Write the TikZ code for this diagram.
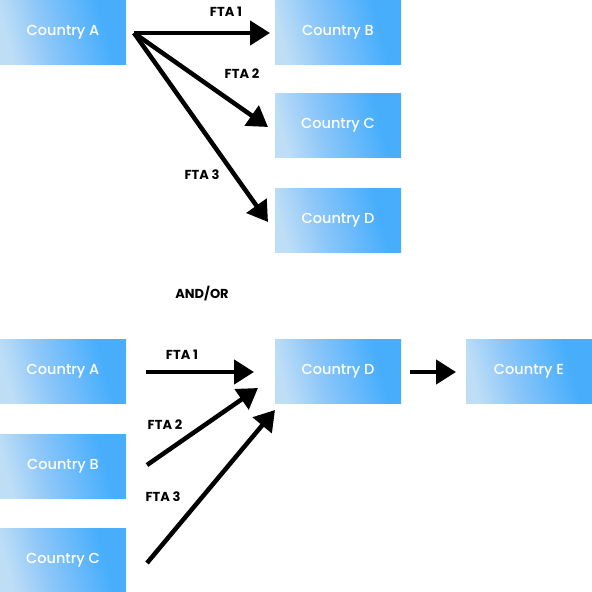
\documentclass[tikz,border=0pt]{standalone}
\usepackage{fontspec}
\setmainfont{Poppins}
\newfontfamily\cfont{Poppins Medium}
\usetikzlibrary{arrows.meta,calc}
\definecolor{boxlight}{RGB}{190,222,246}
\definecolor{boxmid}{RGB}{140,198,249}
\definecolor{boxdark}{RGB}{72,174,252}
\pgfdeclarehorizontalshading{boxshade}{100bp}{color(0bp)=(boxlight); color(25bp)=(boxlight); color(42bp)=(boxmid); color(68bp)=(boxdark); color(100bp)=(boxdark)}
\tikzset{
  country/.style={rectangle, minimum width=126pt, minimum height=64pt, inner sep=0pt,
    shading=boxshade, shading angle=15,
    text=white, font=\cfont\fontsize{14.5}{16}\selectfont},
  arr/.style={line width=4.5pt, -{Triangle[length=20pt,width=24pt]}},
  fta/.style={font=\fontsize{13}{15}\selectfont\bfseries, text=black, inner sep=0pt}
}
\begin{document}
\begin{tikzpicture}[x=1pt,y=-1pt]
\useasboundingbox (0,0) rectangle (592,592);
% top group
\node[country] (A1) at (63,32) {Country A};
\node[country] (B1) at (338,32) {Country B};
\node[country] (C1) at (338,125.5) {Country C};
\node[country] (D1) at (338,220) {Country D};
\coordinate (s1) at (134,33);
\coordinate (t1) at (270,33);
\coordinate (t2) at (268,127);
\coordinate (t3) at (268,222);
\draw[arr] (s1) -- (t1);
\draw[arr] (s1) -- (t2);
\draw[arr] (s1) -- (t3);
\node[fta] (l1) at (226,12) {FTA 1};
\node[fta] (l2) at (242,74) {FTA 2};
\node[fta] (l3) at (202,175) {FTA 3};
\node[fta] (andor) at (202,294) {AND/OR};
% bottom group
\node[country] (A2) at (63,371.5) {Country A};
\node[country] (D2) at (338,371.5) {Country D};
\node[country] (E2) at (529,371.5) {Country E};
\node[country] (B2) at (63,466) {Country B};
\node[country] (C2) at (63,560) {Country C};
\coordinate (u1) at (146,372);
\coordinate (v1) at (254,372);
\coordinate (u2) at (147,465);
\coordinate (v2) at (258,388);
\coordinate (u3) at (147,563);
\coordinate (v3) at (275,410);
\coordinate (u4) at (410,372);
\coordinate (v4) at (456,372);
\draw[arr] (u1) -- (v1);
\draw[arr] (u2) -- (v2);
\draw[arr] (u3) -- (v3);
\draw[arr] (u4) -- (v4);
\node[fta] (m1) at (182,355) {FTA 1};
\node[fta] (m2) at (165,425) {FTA 2};
\node[fta] (m3) at (163,497) {FTA 3};
\end{tikzpicture}
\end{document}
